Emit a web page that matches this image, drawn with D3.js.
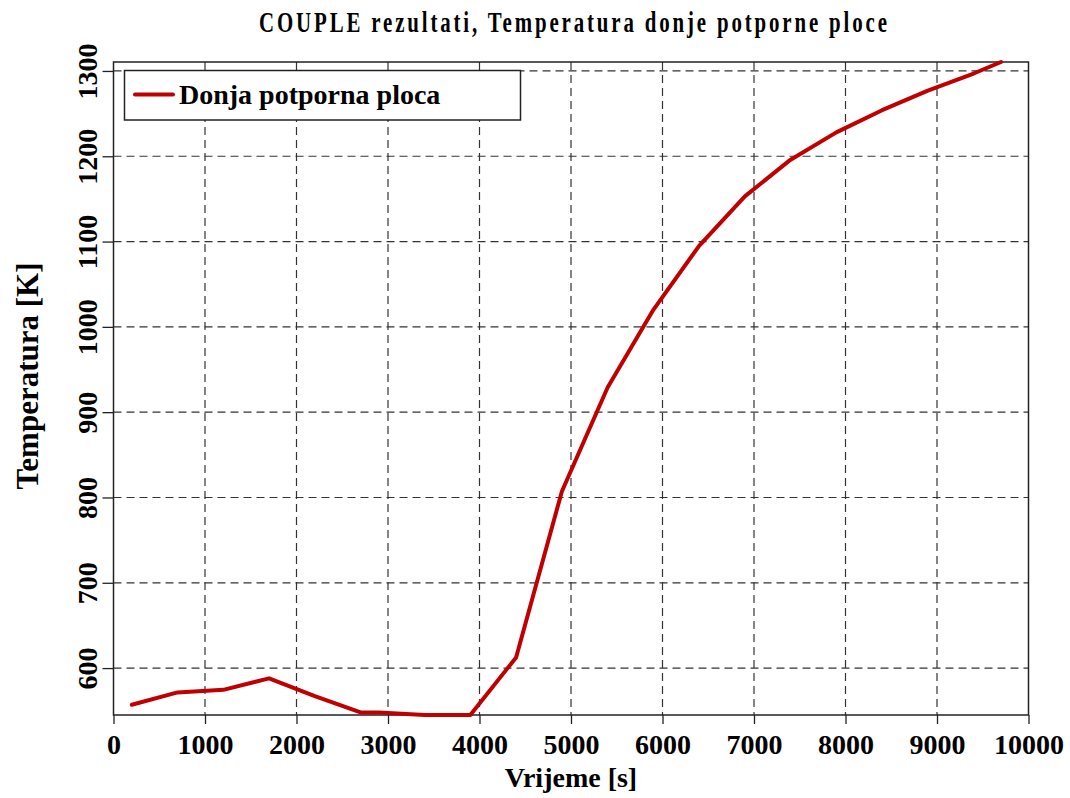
<!DOCTYPE html>
<html>
<head>
<meta charset="utf-8">
<script src="https://cdn.jsdelivr.net/npm/d3@7"></script>
<style>
  html, body { margin: 0; padding: 0; background: #fff; }
  svg { display: block; }
  text { font-family: "Liberation Serif", "Times New Roman", serif; font-weight: bold; fill: #000; }
</style>
</head>
<body>
<svg id="chart" width="1070" height="798"></svg>
<script>
// ---- data ----
const timeS = [200, 700, 1200, 1700, 2200, 2700, 2900, 3400, 3900, 4400, 4900, 5400, 5900, 6400, 6900, 7400, 7900, 8400, 8900, 9400, 9700];
const tempK = [557, 571.5, 574.5, 588, 567, 548, 548, 545, 545, 612.5, 807, 929, 1020, 1095, 1153, 1196, 1228, 1254, 1277, 1297, 1310.5];
const xTicks = [0, 1000, 2000, 3000, 4000, 5000, 6000, 7000, 8000, 9000, 10000];
const yTicks = [600, 700, 800, 900, 1000, 1100, 1200, 1300];
const seriesName = "Donja potporna ploca";
const titleText = "COUPLE rezultati, Temperatura donje potporne ploce";
const xLabel = "Vrijeme [s]";
const yLabel = "Temperatura [K]";

// ---- layout ----
const L = 113.5, R = 1028.5, T = 62, B = 715;
const svg = d3.select("#chart");
const x = d3.scaleLinear().domain([0, 10000]).range([L, R]);
const y = d3.scaleLinear().domain([545, 1310.5]).range([B, T]);

// grid
const grid = svg.append("g").attr("stroke", "#333").attr("stroke-width", 1.2).attr("stroke-dasharray", "8,5");
grid.selectAll("line.v").data(xTicks.slice(1, -1)).join("line")
  .attr("x1", d => x(d)).attr("x2", d => x(d)).attr("y1", T).attr("y2", B);
grid.selectAll("line.h").data(yTicks).join("line")
  .attr("x1", L).attr("x2", R).attr("y1", d => y(d)).attr("y2", d => y(d));

// axes
const xAxis = d3.axisBottom(x).tickValues(xTicks).tickSize(9).tickPadding(10).tickFormat(d3.format("d"));
const gx = svg.append("g").attr("transform", `translate(0,${B})`).call(xAxis);
gx.select(".domain").remove();
gx.selectAll(".tick line").attr("stroke", "#222").attr("stroke-width", 1.3);
gx.selectAll(".tick text").attr("font-size", 28).attr("font-family", "Liberation Serif").attr("font-weight", "bold").attr("fill", "#000");

const yAxis = d3.axisLeft(y).tickValues(yTicks).tickSize(11).tickFormat(d3.format("d"));
const gy = svg.append("g").attr("transform", `translate(${L},0)`).call(yAxis);
gy.select(".domain").remove();
gy.selectAll(".tick line").attr("stroke", "#222").attr("stroke-width", 1.3);
gy.selectAll(".tick text")
  .attr("font-size", 28).attr("font-family", "Liberation Serif").attr("font-weight", "bold").attr("fill", "#000")
  .attr("x", null).attr("dy", null)
  .attr("text-anchor", "middle")
  .attr("transform", "translate(-16.5,0) rotate(-90)");

// frame
svg.append("rect").attr("x", L).attr("y", T).attr("width", R - L).attr("height", B - T)
  .attr("fill", "none").attr("stroke", "#222").attr("stroke-width", 1.5);

// line
const pts = timeS.map((t, i) => [t, tempK[i]]);
svg.append("path").datum(pts)
  .attr("fill", "none").attr("stroke", "#c00000").attr("stroke-width", 4)
  .attr("stroke-linejoin", "round").attr("stroke-linecap", "round")
  .attr("d", d3.line().x(d => x(d[0])).y(d => y(d[1])));

// legend
const lg = svg.append("g");
lg.append("rect").attr("x", 124.5).attr("y", 70.5).attr("width", 396).attr("height", 49.5)
  .attr("fill", "#fff").attr("stroke", "#222").attr("stroke-width", 1.5);
lg.append("line").attr("x1", 135).attr("x2", 173).attr("y1", 94.5).attr("y2", 94.5)
  .attr("stroke", "#c00000").attr("stroke-width", 4).attr("stroke-linecap", "round");
lg.append("text").attr("x", 179).attr("y", 104).attr("font-size", 28).text(seriesName);

// title
svg.append("text")
  .attr("transform", "translate(573,32) scale(0.72,1)")
  .attr("text-anchor", "middle").attr("font-size", 29)
  .attr("textLength", 872).attr("lengthAdjust", "spacing")
  .text(titleText);

// axis labels
svg.append("text").attr("x", 571).attr("y", 787).attr("text-anchor", "middle").attr("font-size", 28).text(xLabel);
svg.append("text").attr("transform", "translate(38,376) rotate(-90)").attr("text-anchor", "middle").attr("font-size", 31).text(yLabel);
</script>
</body>
</html>
